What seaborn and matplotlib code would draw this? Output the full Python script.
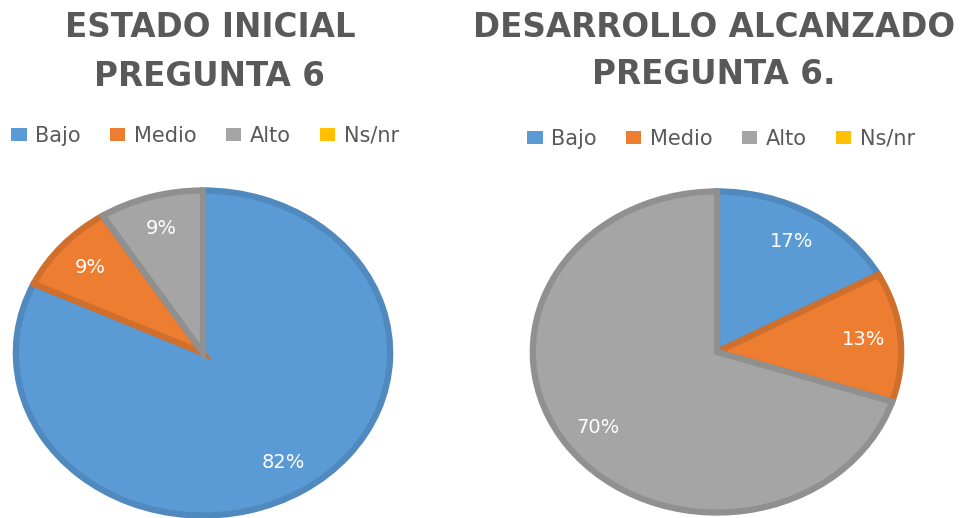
import numpy as np
import matplotlib
matplotlib.use("Agg")
import matplotlib.pyplot as plt
from matplotlib.patches import Patch
import seaborn as sns

# data
categories = ["Bajo", "Medio", "Alto", "Ns/nr"]
inicial_pct = [82, 9, 9, 0]
alcanzado_pct = [17, 13, 70, 0]
title_inicial = "ESTADO INICIAL\nPREGUNTA 6"
title_alcanzado = "DESARROLLO ALCANZADO\nPREGUNTA 6."

sns.set_theme(style="white")
plt.rcParams['font.family'] = ['DejaVu Sans']

fill_colors = sns.color_palette(["#5B9BD5", "#ED7D31", "#A5A5A5", "#FFC000"])
edge_colors = sns.color_palette(["#4F89BE", "#D06F2C", "#909090", "#E0A800"])
text_gray = "#595959"

W, H = 965, 518
fig = plt.figure(figsize=(W / 100, H / 100), dpi=100)


def draw_pie(ax, values):
    vals = np.array(values, dtype=float)
    keep = vals > 0
    wedges, texts, autotexts = ax.pie(
        vals[keep],
        colors=[c for c, k in zip(fill_colors, keep) if k],
        startangle=90,
        counterclock=False,
        radius=0.985,
        autopct=lambda p: f"{p:.0f}%",
        pctdistance=0.8,
        textprops=dict(color="white", fontsize=14),
        wedgeprops=dict(linewidth=4.5),
    )
    for w, ec in zip(wedges, [c for c, k in zip(edge_colors, keep) if k]):
        w.set_edgecolor(ec)
    ax.set_aspect("auto")
    ax.set_xlim(-1, 1)
    ax.set_ylim(-1, 1)
    ax.axis("off")


def add_legend(y_px, x_left_px):
    handles = [Patch(facecolor=c, edgecolor="none") for c in fill_colors]
    fig.legend(handles, categories, loc="center left",
               bbox_to_anchor=(x_left_px / W, 1 - y_px / H),
               ncol=4, frameon=False, fontsize=15,
               handlelength=0.75, handleheight=0.6, handletextpad=0.4,
               columnspacing=1.4, borderpad=0, borderaxespad=0,
               labelcolor=text_gray)


# left pie: center ~ (203, 353) px, rx ~190, ry ~165
ax1 = fig.add_axes([13 / W, (H - 518) / H, 380 / W, 330 / H])
draw_pie(ax1, inicial_pct)
# right pie: center ~ (717, 352) px, rx ~187, ry ~163
ax2 = fig.add_axes([530 / W, (H - 515) / H, 374 / W, 326 / H])
draw_pie(ax2, alcanzado_pct)

fig.text(210 / W, 1 - 52 / H, title_inicial, ha="center", va="center",
         fontsize=23.5, fontweight="bold", color=text_gray, linespacing=1.58)
fig.text(714 / W, 1 - 51 / H, title_alcanzado, ha="center", va="center",
         fontsize=23.5, fontweight="bold", color=text_gray, linespacing=1.52)

add_legend(136, 11)
add_legend(139, 527)

fig.savefig("out.png", dpi=100)
